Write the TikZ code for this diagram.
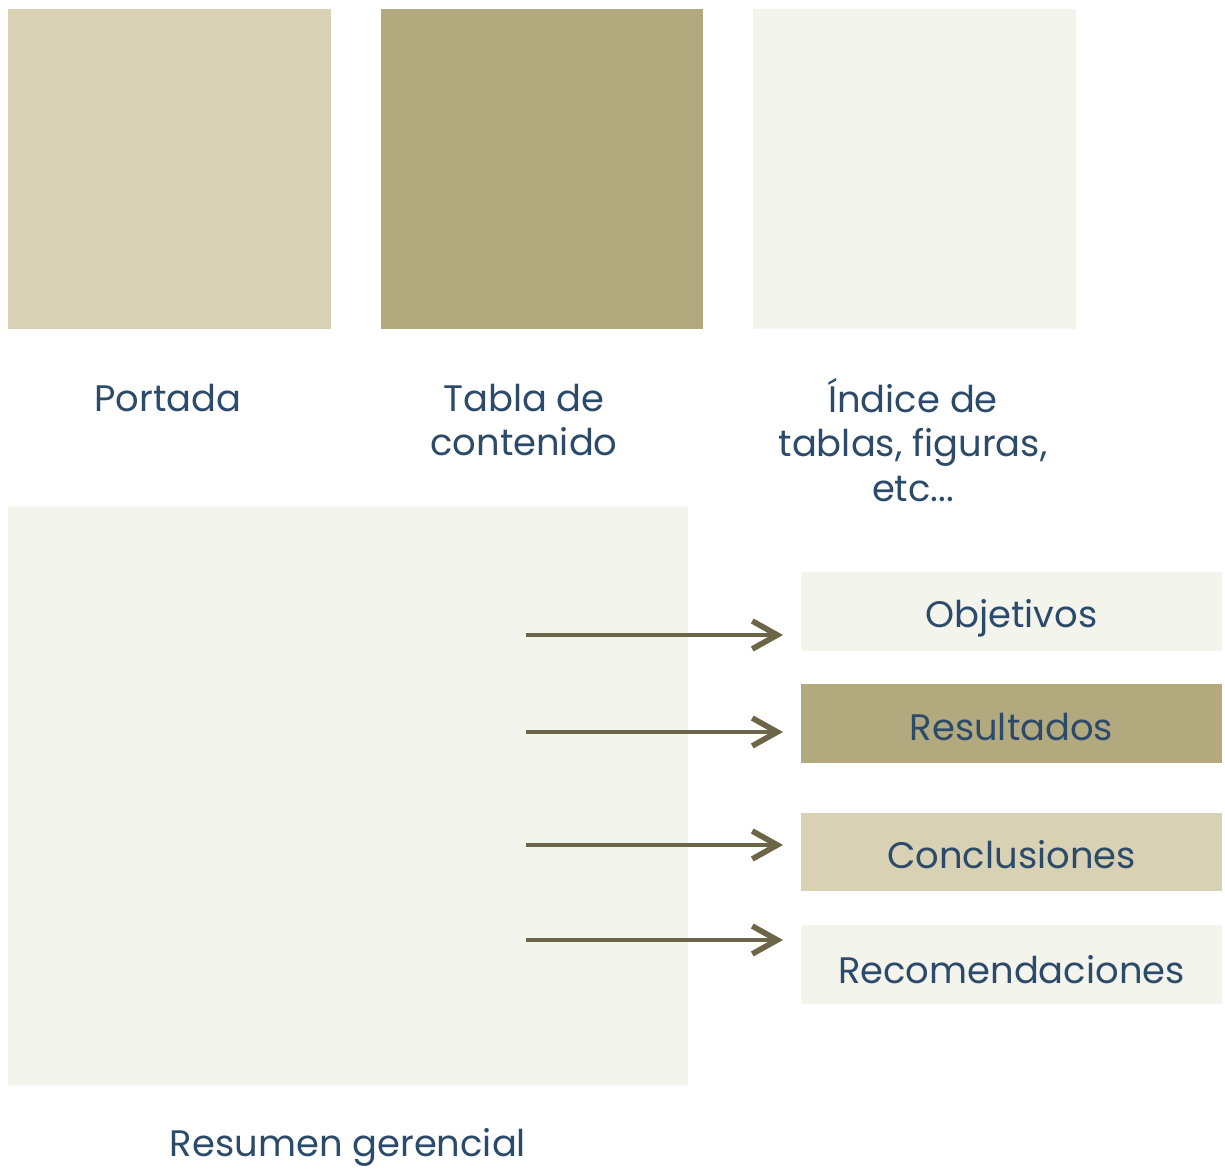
\documentclass[tikz,border=0pt]{standalone}
\usepackage{fontspec}
\setmainfont{Poppins}
\usetikzlibrary{arrows.meta, positioning}
\definecolor{ctan}{HTML}{D8D1B3}
\definecolor{colive}{HTML}{B3A97F}
\definecolor{cpale}{HTML}{F3F4EC}
\definecolor{carrow}{HTML}{6B6648}
\definecolor{ctext}{HTML}{2C4A6A}
\tikzset{
  every picture/.style={font=\fontsize{21}{25.5}\selectfont, text=ctext},
  panel/.style={fill=#1, draw=none, inner sep=0pt},
  panel/.default=cpale,
  square/.style={panel=#1, minimum width=6.46cm, minimum height=6.4cm},
  part/.style={panel=#1, minimum width=8.42cm, minimum height=1.58cm},
  label/.style={align=center, inner sep=0pt},
  arrow/.style={-{Straight Barb[length=0.5cm, width=0.56cm, line width=3.2pt]}, draw=carrow, line width=1.8pt},
}
\begin{document}
\begin{tikzpicture}[x=0.02cm, y=-0.02cm]
  \useasboundingbox (0,0) rectangle (1225,1172);
  % ---------- top row: front pages
  \node[square=ctan]   (portada) at (169.5,169) {};
  \node[square=colive] (tabla)   at (542,169)   {};
  \node[square=cpale]  (indice)  at (914.5,169) {};
  \node[label] (portadaL) at (168,398) {Portada};
  \node[label] (tablaL)   at (524,420) {Tabla de\\contenido};
  \node[label] (indiceL)  at (913,440) {Índice de\\tablas, figuras,\\etc...};
  % ---------- bottom: executive summary and its parts
  \node[panel, minimum width=13.6cm, minimum height=11.56cm] (resumen) at (348,796) {};
  \node[label] (resumenL) at (348,1147) {Resumen gerencial};
  \node[part=cpale]  (obj) at (1011.5,611.5) {};
  \node[part=colive] (res) at (1011.5,723.5) {};
  \node[part=ctan]   (con) at (1011.5,852)   {};
  \node[part=cpale]  (rec) at (1011.5,964.5) {};
  \node[label] (objL) at (1011.5,618)   {Objetivos};
  \node[label] (resL) at (1011.5,727.5) {Resultados};
  \node[label] (conL) at (1011.5,855)   {Conclusiones};
  \node[label] (recL) at (1011.5,969.5) {Recomendaciones};
  \foreach \n/\y in {1/635, 2/732, 3/845, 4/940} {
    \coordinate (from\n) at (526,\y);
    \coordinate (to\n) at (783,\y);
    \draw[arrow] (from\n) -- (to\n);
  }
\end{tikzpicture}
\end{document}
